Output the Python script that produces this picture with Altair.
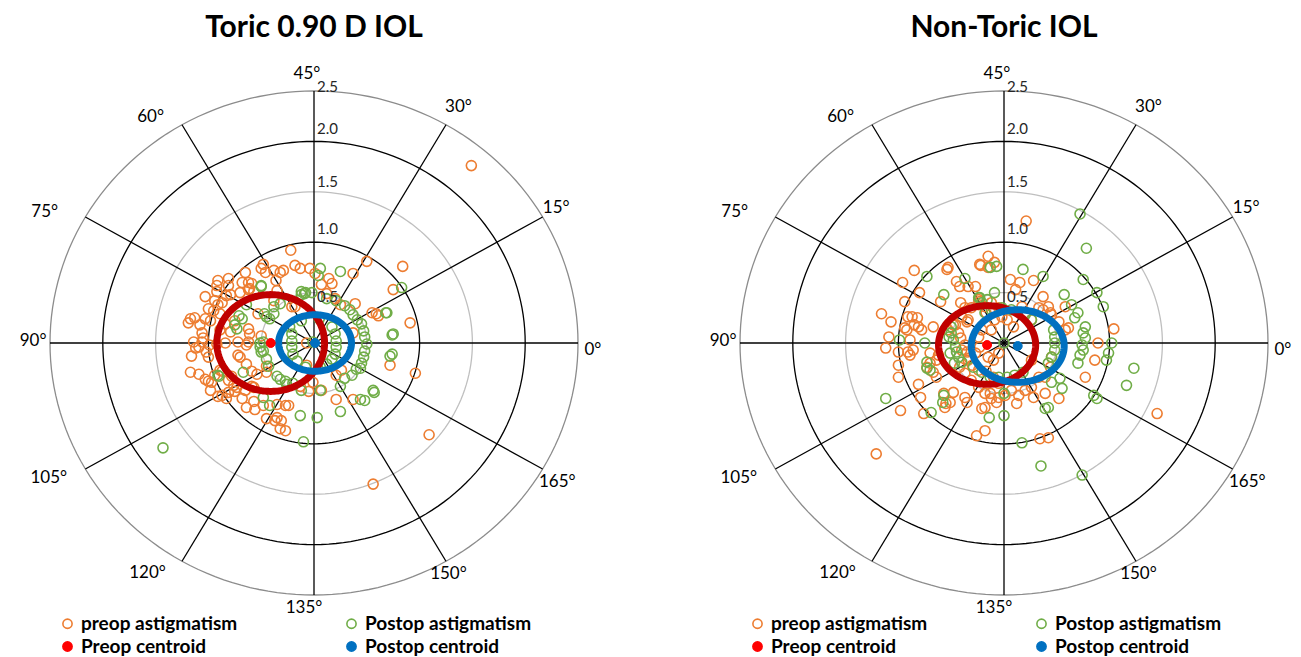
import math
import altair as alt
import pandas as pd

# ---------------- data (double-angle vector components, dioptres) ----------------
TITLES = ["Toric 0.90 D IOL", "Non-Toric IOL"]
SERIES = ["preop astigmatism", "Preop centroid", "Postop astigmatism", "Postop centroid"]
STROKES = ["#ED7D31", "#FF0000", "#70AD47", "#0070C0"]
FILLS = ["transparent", "#FF0000", "transparent", "#0070C0"]
ELLIPSE_COLORS = ["#C00000", "#0070C0"]

RING_LEVELS = [0.5, 1.0, 1.5, 2.0, 2.5]
RING_COLORS = ["#BFBFBF", "#000000", "#BFBFBF", "#000000", "#8C8C8C"]
AXIS_DEG = [0, 15, 30, 45, 60, 75, 90, 105, 120, 135, 150, 165]
AXIS_LABELS = [f"{d}°" for d in AXIS_DEG]

toric_preop = [(-0.22,0.92),(0.50,0.81),(0.84,0.76),(-0.18,0.77),(-0.13,0.74),(-0.48,0.78),(-0.50,0.74),(-0.46,0.70),
    (-0.29,0.72),(-0.32,0.70),(-0.65,0.70),(-0.62,0.60),(-0.81,0.64),(-0.91,0.62),(-0.92,0.57),(-0.81,0.57),(-0.68,0.60),
    (-0.59,0.59),(0.01,0.69),(0.14,0.64),(0.17,0.59),(0.37,0.69),(-1.03,0.46),(-0.94,0.42),(-0.87,0.40),(-0.83,0.47),
    (-0.70,0.50),(-0.61,0.54),(-0.35,0.52),(-0.38,0.42),(0.12,0.49),(0.20,0.44),(0.75,0.53),(-1.00,0.34),(-0.95,0.32),
    (-0.89,0.29),(-1.17,0.24),(-1.13,0.25),(-1.03,0.24),(-0.98,0.22),(-0.75,0.22),(-0.84,0.19),(-0.79,0.11),(-0.62,0.14),
    (-0.61,0.09),(0.55,0.30),(0.59,0.29),(0.91,0.20),(-1.14,0.01),(-1.06,0.01),(-1.09,-0.04),(-1.02,-0.09),(-0.92,-0.01),
    (-0.72,0.01),(-0.62,0.01),(-1.16,-0.13),(-1.17,-0.29),(-1.09,-0.31),(-1.03,-0.36),(-0.97,-0.39),(-0.94,-0.32),
    (-0.89,-0.27),(-0.81,-0.37),(-0.76,-0.42),(-0.81,-0.49),(-0.73,-0.44),(-0.64,-0.21),(-0.54,-0.31),(-0.45,-0.29),
    (-0.98,-0.47),(-0.87,-0.52),(-0.65,-0.47),(-0.57,-0.44),(-0.64,-0.64),(-0.56,-0.66),(-0.48,-0.62),(-0.35,-0.61),
    (-0.27,-0.62),(-0.24,-0.62),(-0.45,-0.75),(-0.35,-0.74),(-0.31,-0.77),(-0.32,-0.85),(-0.01,-0.39),(0.07,-0.47),
    (0.21,-0.56),(0.37,-0.56),(0.26,-0.27),(0.21,-0.32),(0.72,-0.22),(0.96,-0.30),(1.09,-0.91),(1.49,1.76),(0.56,-1.40),
    (-1.19,0.20),(-0.45,-0.23),(-0.84,0.00),(-0.70,-0.14),(-1.00,-0.14),(-0.89,0.13),(-0.59,-0.28),(-0.07,-0.22),
    (-0.05,-0.48),(-0.36,0.62),(-0.57,0.51),(-0.83,-0.55),(0.07,0.58),(0.39,0.39),(0.25,0.38),(0.61,0.27),(0.37,0.10),
    (-0.07,0.00),(-0.50,0.07),(-0.53,0.29),(-0.21,0.36),(-0.04,0.74),(-0.92,0.51),(-0.79,0.48),(-0.62,0.53),(-0.91,0.38),
    (-1.08,0.18),(-1.06,0.10),(-0.72,-0.12),(-0.64,-0.02),(-1.00,-0.38),(-0.87,-0.28),(-0.78,-0.33),(-0.75,-0.48),
    (-0.59,-0.43),(-0.68,-0.55),(-0.91,-0.53),(-0.57,-0.58),(-0.37,-0.77),(-0.27,-0.87),(-0.18,0.36),(-0.13,-0.43),
    (-1.12,-0.05),(-0.99,-0.02),(-1.05,0.05),(-0.38,0.72)]

toric_postop = [(0.06,0.74),(0.04,0.67),(0.25,0.71),(-0.12,0.51),(-0.08,0.50),(-0.02,0.50),(-0.50,0.57),(-0.64,0.38),
    (-0.71,0.27),(-0.73,0.14),(-0.68,0.24),(-0.32,0.39),(-0.38,0.29),(-0.42,0.24),(0.12,0.44),(0.21,0.42),(0.29,0.37),
    (0.34,0.33),(0.37,0.28),(0.41,0.23),(0.45,0.19),(0.47,0.12),(0.48,0.06),(0.50,-0.01),(0.48,-0.08),(0.47,-0.14),
    (0.45,-0.20),(0.40,-0.26),(0.36,-0.32),(0.29,-0.35),(0.69,0.30),(0.75,0.09),(0.74,-0.11),(0.72,-0.13),(-0.23,0.16),
    (-0.21,0.09),(-0.21,0.02),(-0.21,-0.04),(-0.20,-0.11),(-0.16,-0.18),(0.17,0.16),(0.20,0.09),(0.21,0.02),(0.21,-0.04),
    (0.20,-0.11),(0.17,-0.16),(0.12,-0.21),(0.06,-0.24),(-0.48,0.01),(-0.48,-0.08),(-0.45,-0.16),(-0.43,-0.23),
    (-0.67,-0.29),(-0.32,-0.36),(-0.26,-0.41),(-0.12,-0.47),(-0.13,-0.72),(0.03,-0.74),(-0.10,-0.98),(0.44,-0.56),
    (0.48,-0.57),(0.56,-0.47),(-0.01,0.01),(0.83,0.55),(-1.43,-1.04),(0.25,-0.68),(0.57,-0.49),(0.68,0.30),(0.74,0.08),
    (-0.90,-0.33),(-0.48,-0.54),(-0.42,-0.62),(0.25,-0.43),(0.06,-0.47),(0.44,-0.25),(-0.12,0.22),(0.05,0.24),(-0.08,-0.24),
    (-0.50,0.56),(-0.45,0.26),(-0.47,0.29),(-0.38,0.36),(-0.75,0.18),(-0.51,0.00),(-0.51,-0.04),(-0.50,-0.09),
    (-0.35,-0.33),(-0.27,-0.38),(-0.20,-0.40),(-0.91,-0.32),(-0.12,0.48),(-0.09,0.49)]

nontoric_preop = [(-0.85,0.72),(-0.96,0.60),(-0.80,0.50),(-0.94,0.41),(-1.16,0.29),(-1.07,0.21),(-0.87,0.26),(-0.82,0.25),
    (-0.85,0.18),(-0.81,0.16),(-0.92,0.13),(-0.78,0.13),(-1.09,0.06),(-1.12,-0.05),(-0.89,0.03),(-0.91,-0.09),(-0.86,-0.07),
    (-0.67,0.16),(-1.00,-0.22),(-1.00,-0.34),(-0.81,-0.41),(-0.79,-0.54),(-0.98,-0.67),(-0.76,-0.70),(-0.55,-0.60),
    (-0.51,-0.59),(-0.56,-0.64),(-1.21,-1.10),(-0.26,-0.92),(-0.53,0.75),(-0.45,0.61),(-0.42,0.56),(-0.60,0.41),(-0.23,0.78),
    (-0.21,-0.65),(-0.37,-0.54),(-0.73,-0.24),(-0.64,-0.34),(-0.48,-0.49),(-0.67,-0.29),(0.21,1.21),(-0.15,0.86),(-0.27,0.56),
    (0.06,0.63),(0.28,0.62),(-0.24,0.43),(-0.53,0.13),(-0.48,0.18),(-0.62,-0.12),(-0.70,-0.10),(-0.64,-0.17),(-0.70,-0.20),
    (-0.35,-0.59),(-0.18,-0.87),(-0.31,0.35),(-0.24,0.38),(-0.18,0.36),(-0.12,0.40),(-0.05,0.35),(-0.02,0.26),(0.03,0.23),
    (0.09,0.16),(0.17,0.36),(0.21,0.30),(0.26,0.23),(0.33,0.35),(0.37,0.33),(0.42,0.36),(0.45,0.28),(0.52,0.21),(0.58,0.13),
    (0.45,-0.14),(0.44,-0.24),(0.39,-0.34),(0.33,-0.34),(0.26,-0.44),(0.20,-0.47),(0.14,-0.52),(0.07,-0.47),(0.01,-0.52),
    (-0.05,-0.54),(-0.12,-0.55),(-0.18,-0.50),(-0.24,-0.44),(-0.31,-0.37),(-0.37,-0.30),(-0.34,-0.17),(-0.27,-0.10),
    (-0.23,-0.04),(-0.15,-0.14),(-0.10,-0.17),(-0.09,0.23),(-0.12,0.13),(-0.21,0.13),(-0.24,0.06),(-0.05,-0.10),(0.26,-0.17),
    (-0.43,0.10),(-0.40,-0.07),(-0.42,-0.24),(-0.34,0.23),(0.15,0.60),(0.11,0.53),(0.37,0.46),(0.58,0.36),(0.44,0.30),
    (0.61,0.15),(0.89,0.00),(1.04,0.14),(0.86,-0.17),(0.77,-0.34),(0.52,-0.55),(0.39,-0.50),(0.28,-0.54),(0.12,-0.60),
    (-0.13,-0.50),(-0.07,-0.59),(-0.18,-0.64),(0.42,-0.94),(0.34,-0.95),(-0.09,0.80),(-0.15,0.75),(1.45,-0.70),(-0.22,0.77),
    (-0.54,0.73),(-0.34,0.56),(-0.91,0.26),(-0.94,0.15),(-1.00,-0.09),(-0.89,-0.12),(-0.57,-0.50),(-0.41,0.40),(-0.37,0.35),
    (-0.40,0.26),(-0.35,0.21),(-0.46,0.18),(-0.41,0.05),(-0.37,-0.02),(-0.35,-0.09),(-0.33,-0.15),(-0.30,-0.22),
    (-0.24,-0.27),(-0.17,-0.28),(-0.10,-0.34),(-0.05,-0.40),(-0.23,0.41),(-0.17,0.30)]

nontoric_postop = [(0.78,0.94),(-0.13,0.75),(-0.07,0.76),(0.18,0.73),(0.37,0.66),(-0.73,0.66),(-0.37,0.64),(-0.57,0.48),
    (-0.09,0.50),(-0.23,0.45),(0.57,0.48),(0.64,0.38),(0.70,0.30),(0.67,0.25),(0.88,0.50),(0.94,0.36),(0.77,0.16),(0.75,0.10),
    (0.77,0.05),(0.74,-0.02),(0.75,-0.07),(0.72,-0.12),(0.70,-0.20),(1.02,0.00),(0.97,-0.17),(1.16,-0.42),(1.23,-0.25),
    (0.85,-0.52),(0.88,-0.55),(0.45,-0.39),(0.53,-0.35),(0.39,-0.65),(0.42,-0.64),(0.17,-0.99),(0.35,-1.22),(0.00,-0.72),
    (0.00,-0.50),(-0.57,-0.52),(-0.58,-0.59),(-1.12,-0.55),(-0.73,-0.25),(-0.70,-0.27),(-0.75,0.00),(-0.99,0.03),(-0.50,0.16),
    (-0.50,0.10),(-0.48,0.03),(-0.46,-0.04),(-0.45,-0.09),(-0.43,-0.14),(-0.40,-0.19),(-0.29,-0.24),(-0.21,-0.29),
    (-0.13,-0.34),(-0.05,-0.34),(0.03,-0.34),(0.10,-0.32),(0.18,-0.29),(0.47,0.13),(0.48,0.06),(0.48,0.00),(0.48,-0.07),
    (0.45,-0.14),(0.42,-0.20),(-0.18,0.30),(-0.12,0.33),(-0.02,0.35),(0.07,0.33),(0.20,0.28),(0.26,0.23),(0.00,0.00),
    (0.75,0.63),(0.99,-0.10),(0.55,-0.45),(0.72,1.28),(0.74,-1.31),(-0.14,-0.74),(-0.69,-0.69),(-0.73,-0.19),
    (-0.24,0.45),(-0.21,0.40),(-0.16,0.43),(-0.52,0.06),(-0.51,-0.10),(-0.47,-0.20)]

toric_centroids = [(-0.41, 0.00), (0.01, 0.00)]          # preop, postop
nontoric_centroids = [(-0.16, -0.02), (0.13, -0.03)]
toric_ellipse_axes = [(0.51, 0.48), (0.345, 0.28)]        # semi-axes (x, y) around each centroid
nontoric_ellipse_axes = [(0.46, 0.39), (0.44, 0.36)]

# ---------------- styling ----------------
FONT = "Lato"
PLOT_W, PLOT_H = 528, 504
R_MAX = 2.5
LABEL_R = 2.66
# pixel nudges of the angle labels (dx, dy), by axis degree
LABEL_NUDGE = {0: (-2, 7), 15: (-1, -1), 30: (4, -4), 45: (-7, -1), 60: (-23, 6), 75: (-26, 3),
               90: (0, -2), 105: (-22, 1), 120: (-26, -2), 135: (-10, -3), 150: (-6, -1), 165: (0, 5)}
# pixel nudges of the ring value labels, by ring
RADIAL_DY = {0.5: 4, 1.0: -13, 1.5: -10, 2.0: -12, 2.5: -4}


def make_panel(title, preop, postop, centroids, ell_axes):
    sx = alt.Scale(domain=[-R_MAX, R_MAX], nice=False, zero=False)
    sy = alt.Scale(domain=[-R_MAX, R_MAX], nice=False, zero=False)

    def X(f):
        return alt.X(f, type="quantitative", scale=sx, axis=None)

    def Y(f):
        return alt.Y(f, type="quantitative", scale=sy, axis=None)

    # grid rings
    rows = []
    for lvl, col in zip(RING_LEVELS, RING_COLORS):
        for k in range(0, 181):
            a = 2 * math.pi * k / 180
            rows.append(dict(level=lvl, col=col, k=k, x=lvl * math.cos(a), y=lvl * math.sin(a)))
    rings = alt.Chart(pd.DataFrame(rows)).mark_line(strokeWidth=1.3).encode(
        x=X("x"), y=Y("y"), detail="level:N", order="k:Q",
        color=alt.Color("col:N", scale=None))

    # spokes
    sp = pd.DataFrame([dict(deg=d, x0=0.0, y0=0.0,
                            x2=R_MAX * math.cos(math.radians(2 * d)),
                            y2=R_MAX * math.sin(math.radians(2 * d))) for d in AXIS_DEG])
    spokes = alt.Chart(sp).mark_rule(color="black", strokeWidth=1.3).encode(
        x=X("x0"), y=Y("y0"), x2="x2:Q", y2="y2:Q")

    # angle labels
    lab_df = pd.DataFrame([dict(deg=d, label=t,
                                lx=LABEL_R * math.cos(math.radians(2 * d)),
                                ly=LABEL_R * math.sin(math.radians(2 * d)))
                           for d, t in zip(AXIS_DEG, AXIS_LABELS)])
    angle_layers = []
    for d in AXIS_DEG:
        dx, dy = LABEL_NUDGE[d]
        angle_layers.append(
            alt.Chart(lab_df).transform_filter(alt.datum.deg == d).mark_text(
                font=FONT, fontSize=17, color="black", align="center", baseline="middle",
                dx=dx, dy=dy).encode(x=X("lx"), y=Y("ly"), text="label:N"))

    # radial value labels
    rl = pd.DataFrame(dict(x=[0.0] * len(RING_LEVELS), y=RING_LEVELS,
                           t=[f"{v:.1f}" for v in RING_LEVELS]))
    radial_layers = []
    for lvl in RING_LEVELS:
        radial_layers.append(
            alt.Chart(rl).transform_filter(alt.datum.y == lvl).mark_text(
                font=FONT, fontSize=15, color="#262626", align="left", baseline="middle",
                dx=3, dy=RADIAL_DY[lvl]).encode(x=X("x"), y=Y("y"), text="t:N"))

    legend = alt.Legend(title=None, orient="none", legendX=8, legendY=523, columns=2,
                        columnPadding=104, rowPadding=3, symbolType="circle", symbolSize=85,
                        symbolStrokeWidth=1.6, labelFont=FONT, labelFontSize=19,
                        labelFontWeight="bold", labelColor="black", labelLimit=400, padding=0)
    fill_enc = alt.Fill("series:N", scale=alt.Scale(domain=SERIES, range=FILLS), legend=legend)
    stroke_enc = alt.Stroke("series:N", scale=alt.Scale(domain=SERIES, range=STROKES), legend=legend)

    pts = pd.DataFrame(
        [dict(x=x, y=y, series=SERIES[0]) for x, y in preop] +
        [dict(x=x, y=y, series=SERIES[2]) for x, y in postop])
    scatter = alt.Chart(pts).mark_point(shape="circle", size=100, strokeWidth=1.6, filled=True,
                                        opacity=1).encode(
        x=X("x"), y=Y("y"), fill=fill_enc, stroke=stroke_enc)

    # ellipses around centroids
    erows = []
    for i, ((cx, cy), (a, b)) in enumerate(zip(centroids, ell_axes)):
        for k in range(0, 181):
            t = 2 * math.pi * k / 180
            erows.append(dict(e=i, k=k, x=cx + a * math.cos(t), y=cy + b * math.sin(t)))
    ell_df = pd.DataFrame(erows)
    ellipses = [alt.Chart(ell_df).transform_filter(alt.datum.e == i).mark_line(
        strokeWidth=7, color=ELLIPSE_COLORS[i]).encode(x=X("x"), y=Y("y"), order="k:Q")
        for i in range(2)]

    cen = pd.DataFrame([dict(x=centroids[0][0], y=centroids[0][1], series=SERIES[1]),
                        dict(x=centroids[1][0], y=centroids[1][1], series=SERIES[3])])
    cents = alt.Chart(cen).mark_point(shape="circle", size=80, strokeWidth=1, filled=True,
                                      opacity=1).encode(
        x=X("x"), y=Y("y"), fill=fill_enc, stroke=stroke_enc)

    layers = [rings, spokes, scatter] + ellipses + [cents] + radial_layers + angle_layers
    return alt.layer(*layers).properties(
        width=PLOT_W, height=PLOT_H,
        title=alt.TitleParams(text=title, font=FONT, fontSize=30, fontWeight="bold", color="black",
                              anchor="middle", frame="group", baseline="alphabetic", offset=-2))


left = make_panel(TITLES[0], toric_preop, toric_postop, toric_centroids, toric_ellipse_axes)
right = make_panel(TITLES[1], nontoric_preop, nontoric_postop, nontoric_centroids, nontoric_ellipse_axes)

chart = alt.hconcat(left, right, spacing=162, bounds="flush").resolve_scale(
    x="independent", y="independent", fill="independent", stroke="independent",
    color="independent").resolve_legend(fill="independent", stroke="independent").configure_view(
    stroke=None).properties(padding={"left": 11, "top": 4, "right": 0, "bottom": 0},
                            background="white")

chart.save("out.html", embed_options={"renderer": "svg", "actions": False})
